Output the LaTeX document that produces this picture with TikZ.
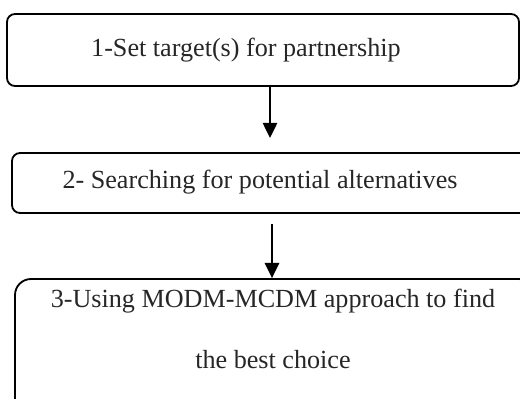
\documentclass[tikz,border=0pt]{standalone}
\usepackage{fontspec}
\setmainfont{Liberation Serif}
\usetikzlibrary{arrows.meta, positioning}

\begin{document}
\begin{tikzpicture}[
    stage/.style={rectangle, draw, line width=1.3pt, rounded corners=0.2cm, inner sep=0pt},
    caption/.style={font=\fontsize{18.6pt}{22.3pt}\selectfont, align=center, text=black!85},
    flow/.style={-{Triangle[length=0.38cm, width=0.36cm]}, line width=1.3pt},
]

\useasboundingbox (0, 0) rectangle (13, -9.95);
\clip (0, 0) rectangle (13, -9.95);

% the three stage boxes run past the right edge
\node[stage, minimum width=12.8cm, minimum height=1.8cm] (target) at (6.575, -1.25) {};
\node[stage, minimum width=13.2cm, minimum height=1.5cm] (search) at (6.9, -4.575) {};
\node[stage, rounded corners=0.4cm, minimum width=13cm, minimum height=3.4cm] (choice) at (6.875, -8.675) {};

\node[caption] (targettext) at (6.15, -1.25) {1-Set target(s) for partnership};
\node[caption] (searchtext) at (6.5, -4.55) {2- Searching for potential alternatives};
\node[caption] (choicetext) at (6.825, -8.225) {3-Using MODM-MCDM approach to find\\[21pt]the best choice};

\coordinate (gap1) at (6.75, -3.45);
\coordinate (gap2) at (6.8, -5.6);

\draw[flow] (target.south -| gap1) -- (gap1);
\draw[flow] (gap2) -- (gap2 |- choice.north);

\end{tikzpicture}
\end{document}
